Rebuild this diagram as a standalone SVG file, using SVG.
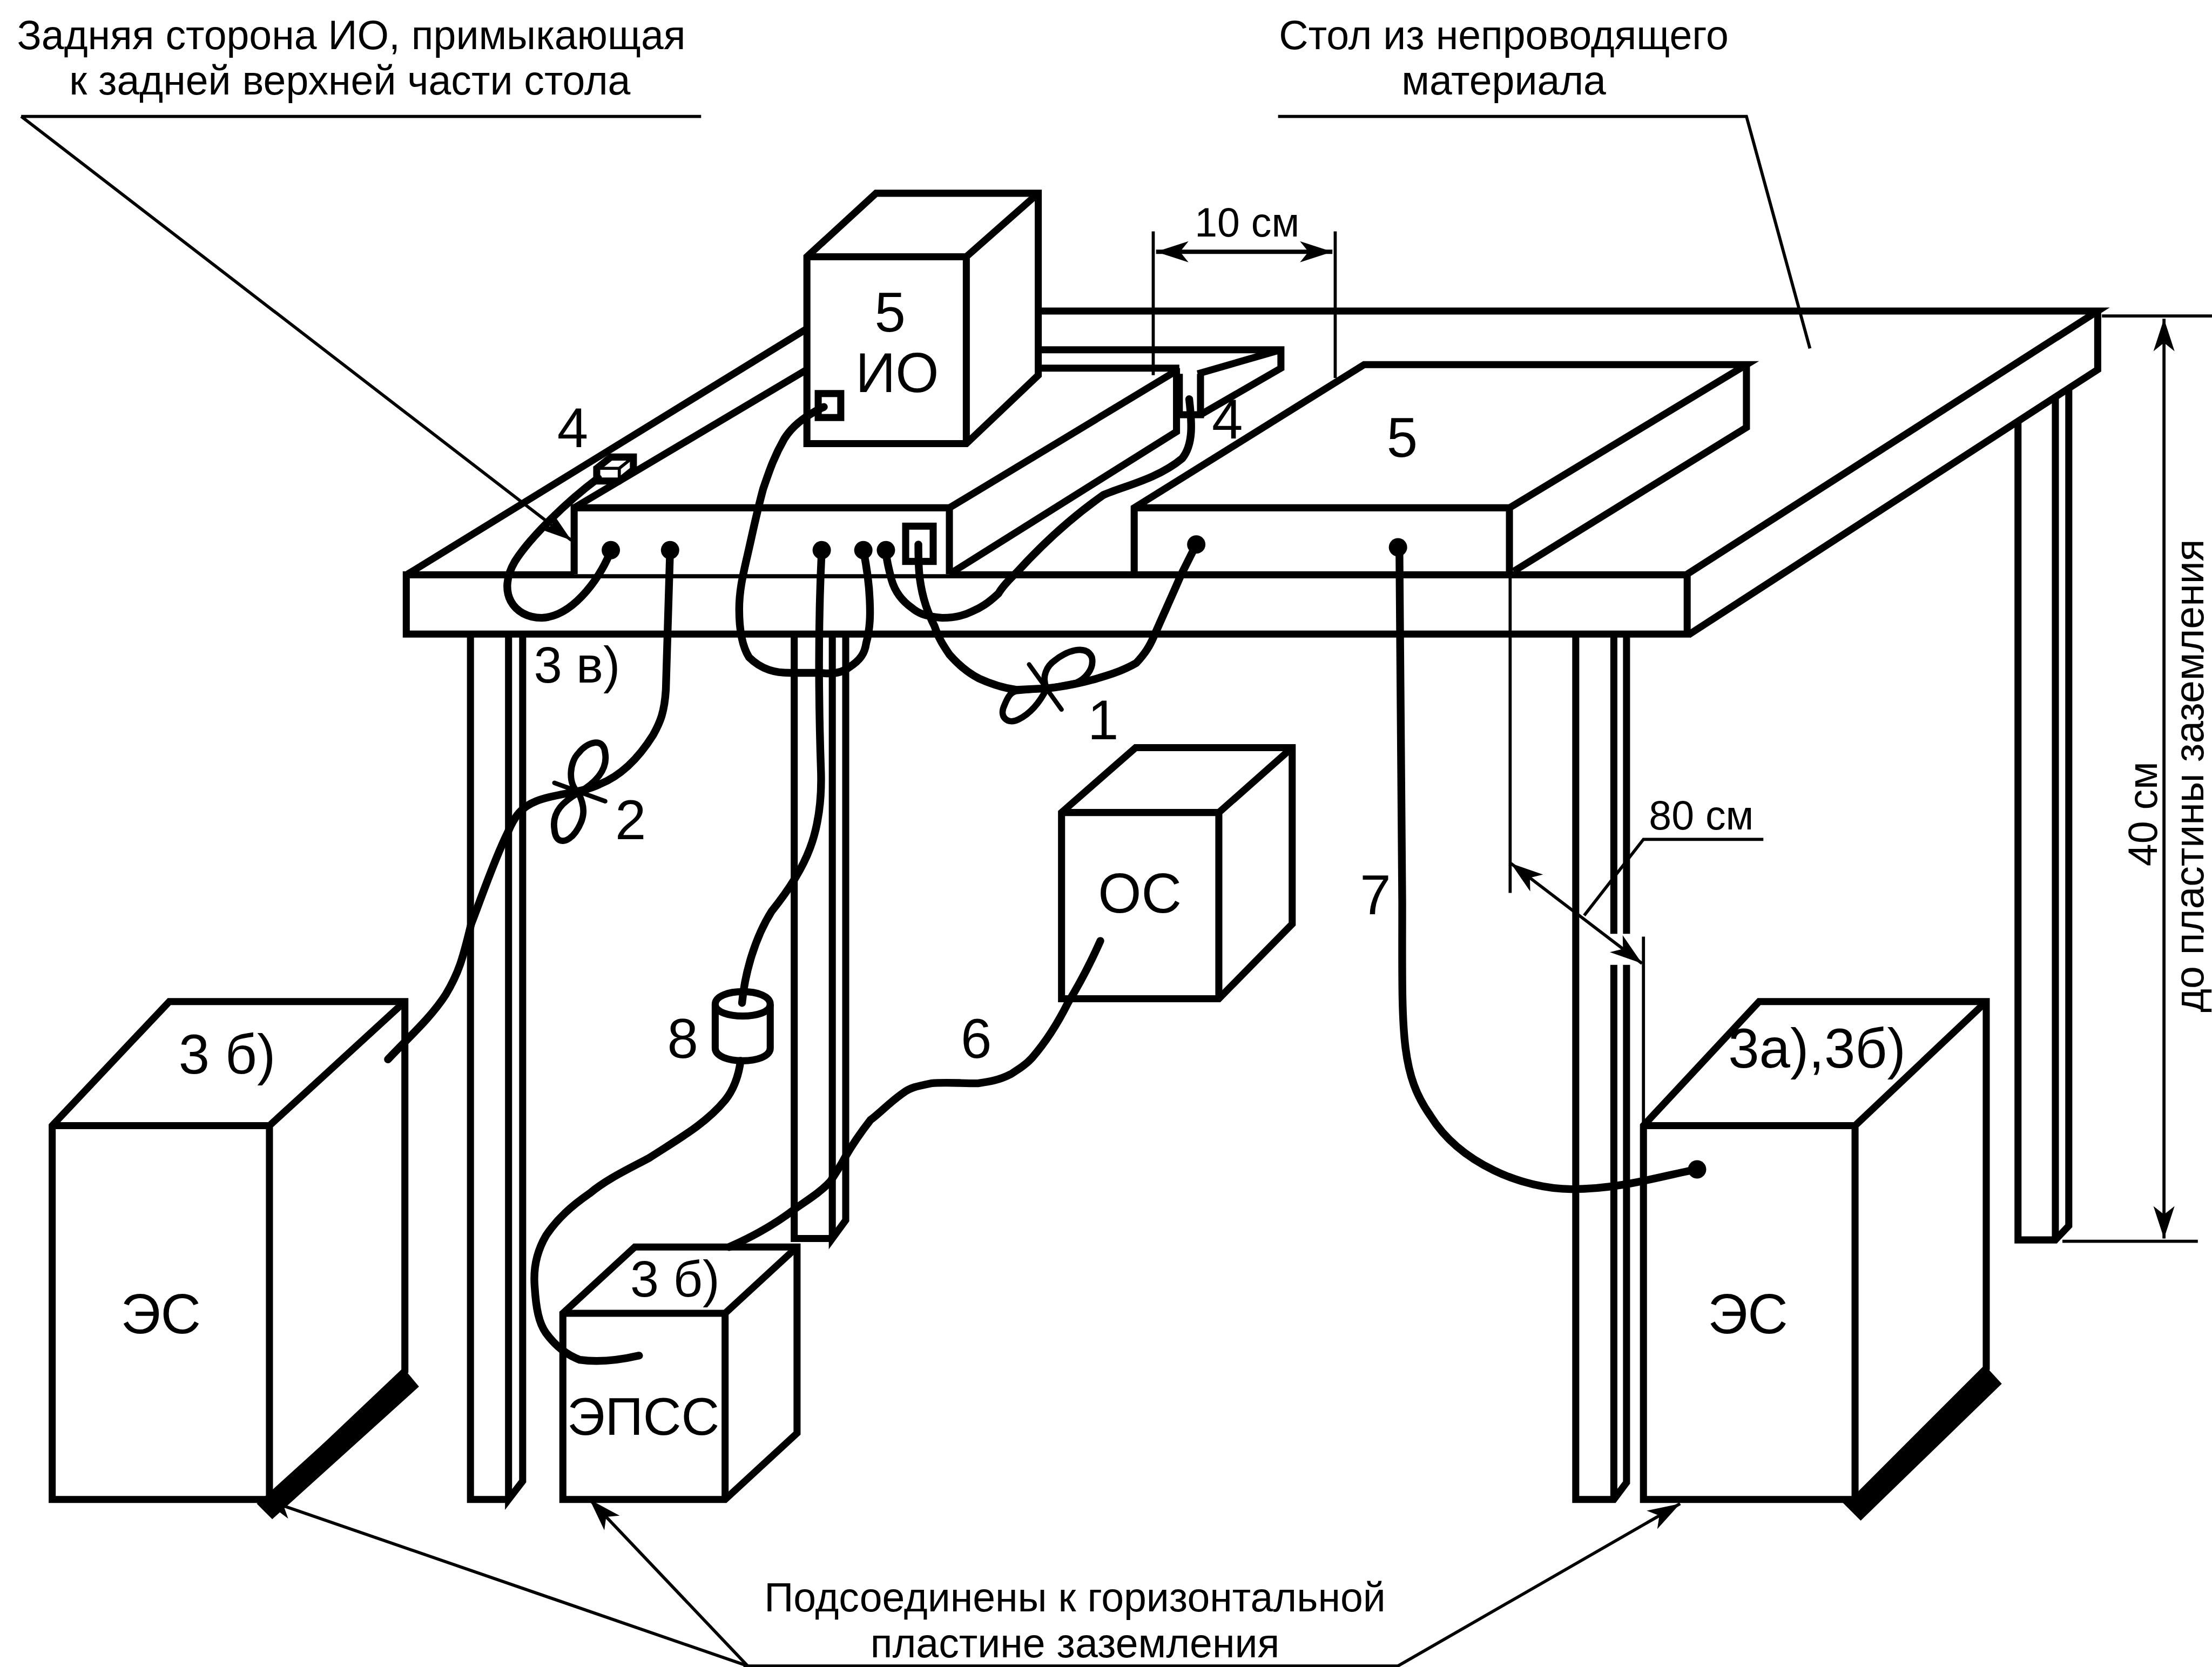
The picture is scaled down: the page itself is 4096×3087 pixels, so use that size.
<svg xmlns="http://www.w3.org/2000/svg" width="4096" height="3087" viewBox="0 0 4096 3087">
<style>
.l{fill:none;stroke:#000;stroke-width:5;stroke-linejoin:miter;stroke-linecap:butt}
.b{fill:#fff;stroke:#000;stroke-width:5;stroke-linejoin:miter}
.t{fill:none;stroke:#000;stroke-width:2.2}
.c{fill:none;stroke:#000;stroke-width:5.5;stroke-linecap:round;stroke-linejoin:round}
.k{fill:none;stroke:#000;stroke-width:4.5;stroke-linecap:round;stroke-linejoin:round}
.x{fill:none;stroke:#000;stroke-width:3.2;stroke-linecap:round}
.d{fill:#000}
text{font-family:"Liberation Sans",Arial,sans-serif;fill:#000;text-anchor:middle}
.s{font-size:28.8px}
.m{font-size:39.5px}
</style>
<defs>
<marker id="ah" markerUnits="userSpaceOnUse" viewBox="-24 -8 26 16" refX="0" refY="0" markerWidth="26" markerHeight="16" orient="auto-start-reverse"><path d="M0,0L-23,-7.5L-17,0L-23,7.5Z" fill="#000"/></marker>
</defs>
<rect width="4096" height="3087" fill="#fff"/>
<g transform="scale(2.6122)">
<g id="table">
<path class="l" d="M289,407L572,233M407,360L572,262M736,220.5H1487L1196,407M1487,220.5V262L1197,450"/>
<rect class="l" x="288" y="407.5" width="908" height="42"/>
<path class="l" d="M735,248H908V261L851,294M908,248L849,265M735,261H836M834,261V306L673,407M832,264L673,360"/>
<path class="l" d="M836,265V294H851V265"/>
</g>
<g id="legs">
<path class="l" d="M333.5,450V1063H360.5M360.5,450V1063L370.5,1050V450"/>
<path class="l" d="M563,450V878H590M590,450V878L599.5,865V450"/>
<path class="l" d="M1117,450V1063H1144L1153,1051V684M1153,662V450M1144,450V662M1144,684V1063"/>
<path class="l" d="M1430.5,299V879H1457L1466.5,869V276M1457,281V879"/>
</g>
<g id="node-plate-left">
<path class="b" d="M407,407V360H673V407"/>
<rect class="l" x="642" y="373" width="19.5" height="25"/>
<circle class="d" cx="433" cy="390" r="6.5"/><circle class="d" cx="475" cy="390" r="6.5"/><circle class="d" cx="582.5" cy="390" r="6.5"/><circle class="d" cx="612" cy="390" r="6.5"/><circle class="d" cx="628" cy="390" r="6.5"/>
</g>
<g id="node-plate-right">
<path class="l" d="M804,407V360L967,258.5H1238L1070,360H804M1070,360V407M1238,258.5V303L1073,405"/>
<text class="m" x="994" y="324">5</text>
<circle class="d" cx="848" cy="386" r="6.5"/><circle class="d" cx="991" cy="388" r="6.5"/>
</g>
<g id="node-io">
<path class="b" d="M572,182L621,137H736V266L685,314.5H572Z"/>
<path class="l" d="M572,182H685V314.5M685,182L736,137"/>
<rect class="l" x="580" y="279" width="16" height="17"/>
<text class="m" x="631" y="235">5</text>
<text class="m" x="636" y="278">ИО</text>
</g>
<g id="node-clamp-left">
<path class="b" d="M423,332L433,324H449V333L439,341H423Z"/>
<path class="t" d="M423,332H439V341M439,332L449,324"/>
</g>
<g id="node-es-left">
<path class="b" d="M37,798L120,710H287V972L191,1063H37Z"/>
<path class="l" d="M37,798H191V1063M191,798L287,710"/>
<path class="d" d="M191,1058L287,971L297,983L193,1077L182,1066Z"/>
<text class="m" x="114" y="945">ЭС</text>
<text class="m" x="161" y="761">3 б)</text>
</g>
<g id="node-es-right">
<path class="b" d="M1165,798L1247,710H1408V970L1315,1063H1165Z"/>
<path class="l" d="M1165,798H1315V1063M1315,798L1408,710"/>
<path class="d" d="M1315,1060L1408,969L1419,981L1319,1078L1306,1065Z"/>
<text class="m" x="1239" y="945">ЭС</text>
<text class="m" x="1288" y="757">3а),3б)</text>
</g>
<g id="node-epss">
<path class="b" d="M399,931L450,884H565V1016L514,1063H399Z"/>
<path class="l" d="M399,931H514V1063M514,931L565,884"/>
<text class="m" style="font-size:37.5px" x="456" y="1017">ЭПСС</text>
<text class="m" style="font-size:36.5px" x="478.5" y="919">3 б)</text>
</g>
<g id="node-os">
<path class="b" d="M752.5,576L805,530H916V655L864,708H752.5Z"/>
<path class="l" d="M752.5,576H864V708M864,576L916,530"/>
<text class="m" x="808" y="647">ОС</text>
</g>
<g id="node-filter">
<path class="b" d="M507,712C507,700 546,700 546,712V743C546,755 507,755 507,743Z"/>
<path class="l" d="M507,712C507,723 546,723 546,712"/>
<text class="m" x="484" y="750">8</text>
</g>
<g id="connectors">
<path class="c" d="M433,390C428,405 408,437 384,438C364,438 352,420 365,398C375,382 400,357 424,339"/>
<path class="c" d="M475,390L472,489C471,505 468,512 463,521C453,537 440,550 425,556C410,563 395,562 380,568C370,572 365,578 360,590C350,610 340,640 334,655C328,680 325,690 316,705C305,722 290,735 275,751"/>
<path class="k" d="M410,562C402,555 404,540 410,534C416,526 428,522 429,534C431,546 422,555 410,562C415,572 415,580 408,590C403,597 394,600 393,588C391,575 400,568 410,562Z"/>
<path class="x" d="M393,555L429,568"/>
<path class="c" d="M584,288.5C570,295 561,303 556,311C548,325 545,335 541,346.5C536,365 533,380 530,393C526,410 524,420 524,432C524,445 526,458 531,466C540,475 550,477 560,477L582,477C590,478 597,477 602,473C610,468 613,463 614,456C617,445 617,435 616.5,425C616,412 614,400 612,390"/>
<path class="c" d="M582.5,390C580,440 580,490 582,548C583,590 572,615 547,646C535,665 528,690 526,711"/>
<path class="c" d="M525,752C523,767 518,775 514,780C500,797 480,808 460,821C445,829 430,836 418,846C405,855 395,864 387,876C380,888 378,900 379,912C380,928 382,938 387,945C395,956 403,961 411,964C425,966 440,964 453,961"/>
<path class="c" d="M780,667C772,685 765,698 757,711C750,725 742,738 731.5,750C727,755 722,758 716.5,761.5C708,766 700,767 693,768C680,768 670,767 660,768C650,770 645,771 640,775C630,782 625,788 617,794C610,803 605,810 599,820.5C595,828 592,832 589,837C582,845 572,851 563.5,857C552,866 535,876 517,884"/>
<path class="c" d="M843,283C845,300 846,315 838,325C820,340 795,345 782,351C755,370 735,390 720.5,406C712,414 708,420 708,420.5C700,428 695,431 689,433.5C682,437 675,438 668,438C655,437 650,434 646.5,431C638,425 634,418 632,411C630,403 628,396 628,390"/>
<path class="c" d="M651,386C651,395 651,402 652,410C654,425 658,435 662.5,444C665,452 669,458 673,464C680,472 686,477 694,481C705,486 713,488 720.5,489L742,488C752,487 763,485 774,482C785,479 795,476 805.5,470C812,463 815,458 818,451C825,435 831,422 837,408C842,398 845,392 848,386"/>
<path class="k" d="M742,488C738,480 742,472 748,468C755,462 770,456 774,466C776,475 768,482 763,484L742,488C738,496 732,505 722,510C714,514 708,508 712,500C714,495 716,491 720,490Z"/>
<path class="x" d="M729.5,471L752.5,503"/>
<path class="c" d="M992,390L994,640C994,730 992,760 1014,791C1035,825 1080,843 1114,843C1150,843 1180,833 1203,829"/>
<circle class="d" cx="1203" cy="829" r="6.5"/>
<path class="t" d="M15,82.5H497M15,82.5L405,383" marker-end="url(#ah)"/>
<path class="t" d="M906,82.5H1238L1283,247"/>
<path class="t" d="M817.5,164V266M946.5,164V268"/>
<path class="t" style="stroke-width:3" d="M819.5,178.5H944.5" marker-start="url(#ah)" marker-end="url(#ah)"/>
<path class="t" d="M1070.5,407V633M1165,664V800"/>
<path class="t" d="M1071,612L1164,683" marker-start="url(#ah)" marker-end="url(#ah)"/>
<path class="t" d="M1123,649L1165,595H1250"/>
<path class="t" d="M1490,224H1568M1462,880H1558"/>
<path class="t" d="M1534,226V878" marker-start="url(#ah)" marker-end="url(#ah)"/>
<path class="t" d="M530,1181L185,1062" marker-end="url(#ah)"/>
<path class="t" d="M530,1181L418,1063" marker-end="url(#ah)"/>
<path class="t" d="M527,1181H991L1191,1066" marker-end="url(#ah)"/>
</g>
<g id="labels">
<text class="s" x="249" y="35">Задняя сторона ИО, примыкающая</text>
<text class="s" x="248" y="67">к задней верхней части стола</text>
<text class="s" x="1066" y="35">Стол из непроводящего</text>
<text class="s" x="1066" y="67">материала</text>
<text class="s" x="884" y="167.5">10 см</text>
<text class="s" x="1206" y="588">80 см</text>
<text class="m" x="406" y="317">4</text>
<text class="m" x="870" y="311">4</text>
<text class="m" x="782" y="524">1</text>
<text class="m" x="447" y="595">2</text>
<text class="m" style="font-size:36px" x="409" y="484">3 в)</text>
<text class="m" x="692" y="750">6</text>
<text class="m" x="975" y="648">7</text>
<text class="s" x="762" y="1142.5">Подсоединены к горизонтальной</text>
<text class="s" x="762" y="1175">пластине заземления</text>
<text class="s" transform="translate(1529,577) rotate(-90)">40 см</text>
<text class="s" transform="translate(1562,550) rotate(-90)">до пластины заземления</text>
</g>
</g>
</svg>
